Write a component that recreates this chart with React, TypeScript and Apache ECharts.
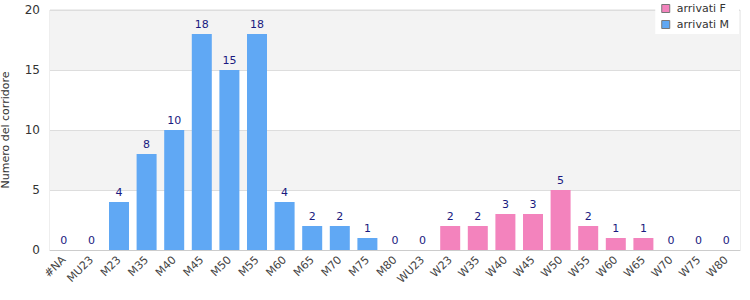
import React, { useEffect, useRef } from "react";
import * as echarts from "echarts";

const categories = ["#NA", "MU23", "M23", "M35", "M40", "M45", "M50", "M55", "M60", "M65", "M70", "M75", "M80", "WU23", "W23", "W35", "W40", "W45", "W50", "W55", "W60", "W65", "W70", "W75", "W80"];
const arrivatiM: (number | string)[] = [0, 0, 4, 8, 10, 18, 15, 18, 4, 2, 2, 1, 0, "-", "-", "-", "-", "-", "-", "-", "-", "-", "-", "-", "-"];
const arrivatiF: (number | string)[] = ["-", "-", "-", "-", "-", "-", "-", "-", "-", "-", "-", "-", "-", 0, 2, 2, 3, 3, 5, 2, 1, 1, 0, 0, 0];
const yTicks = [0, 5, 10, 15, 20];

const FONT = "DejaVu Sans";

export default function App() {
  const ref = useRef<HTMLDivElement>(null);
  useEffect(() => {
    if (!ref.current) return;
    const chart = echarts.init(ref.current, null, { renderer: "svg" });
    const label = {
      show: true,
      position: "top",
      color: "#1a1a80",
      fontSize: 11,
      fontFamily: FONT,
      distance: 4,
    };
    chart.setOption({
      animation: false,
      textStyle: { fontFamily: FONT },
      grid: {
        left: 50,
        right: 10,
        top: 10,
        bottom: 50,
        show: true,
        borderColor: "#dddddd",
        borderWidth: 1,
        outerBoundsMode: "none",
        containLabel: false,
      },
      legend: {
        right: 11,
        top: 0,
        orient: "vertical",
        backgroundColor: "#ffffff",
        padding: [3, 10, 4, 6],
        itemGap: 5,
        icon: "rect",
        itemWidth: 8,
        itemHeight: 8,
        itemStyle: { borderColor: "#777", borderWidth: 1 },
        textStyle: { fontFamily: FONT, fontSize: 11, color: "#333", padding: [0, 0, 0, 2] },
        data: ["arrivati F", "arrivati M"],
      },
      xAxis: {
        type: "category",
        data: categories,
        axisTick: { show: false },
        axisLine: { lineStyle: { color: "#cccccc" } },
        axisLabel: { rotate: 45, fontSize: 11, color: "#444", fontFamily: FONT, interval: 0, margin: 8 },
      },
      yAxis: {
        type: "value",
        min: yTicks[0],
        max: yTicks[yTicks.length - 1],
        interval: 5,
        name: "Numero del corridore",
        nameLocation: "middle",
        nameGap: 39,
        nameTextStyle: { fontSize: 11, color: "#333", fontFamily: FONT },
        axisLabel: { fontSize: 12, color: "#333", fontFamily: FONT, margin: 10 },
        splitLine: { lineStyle: { color: "#dddddd" } },
        splitArea: { show: true, areaStyle: { color: ["#ffffff", "#f3f3f3"] } },
      },
      series: [
        {
          name: "arrivati F",
          type: "bar",
          stack: "tot",
          data: arrivatiF,
          barWidth: 20,
          itemStyle: { color: "#f383bd" },
          label,
        },
        {
          name: "arrivati M",
          type: "bar",
          stack: "tot",
          data: arrivatiM,
          barWidth: 20,
          itemStyle: { color: "#60a8f4" },
          label,
        },
      ],
    });
    return () => chart.dispose();
  }, []);
  return <div ref={ref} style={{ position: "absolute", left: 0, top: 0, width: 750, height: 300 }} />;
}
